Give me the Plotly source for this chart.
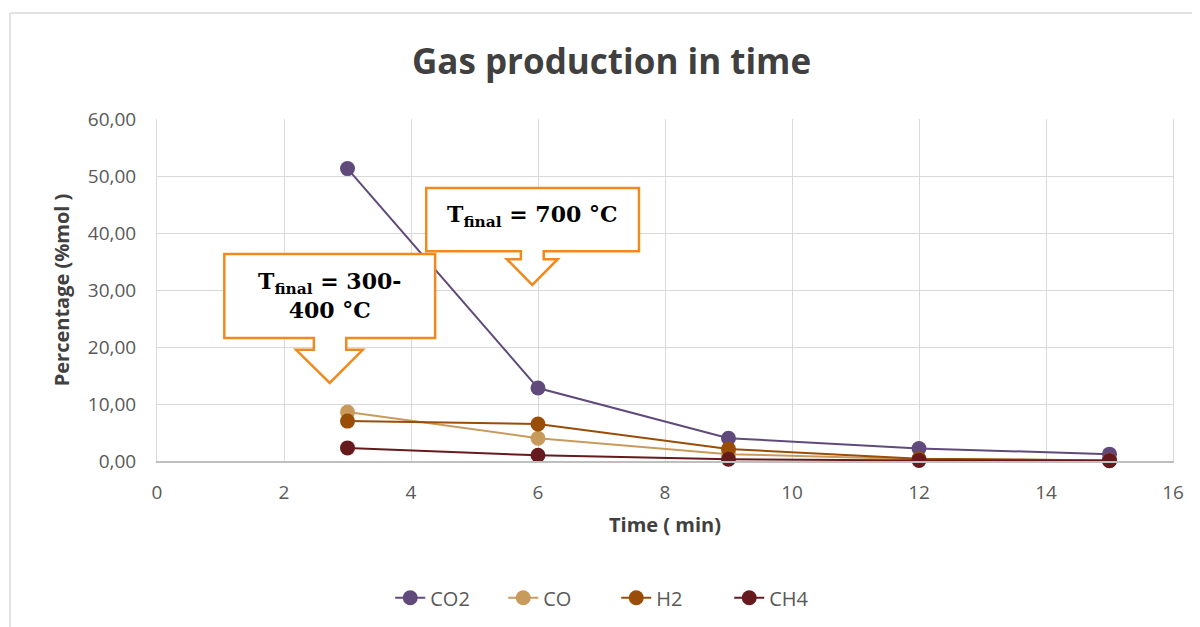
import plotly.graph_objects as go

# Data
time_min = [3, 6, 9, 12, 15]
co2 = [51.3, 12.8, 4.0, 2.2, 1.2]
co = [8.6, 4.0, 1.2, 0.3, 0.1]
h2 = [7.0, 6.5, 2.1, 0.4, 0.1]
ch4 = [2.3, 1.0, 0.3, 0.1, 0.05]

series = [
    ("CO2", co2, "#604A7B"),
    ("CO", co, "#C89B5C"),
    ("H2", h2, "#9A4D06"),
    ("CH4", ch4, "#661A1E"),
]

fig = go.Figure()
for name, vals, color in series:
    fig.add_trace(go.Scatter(
        x=time_min,
        y=vals,
        mode="lines+markers",
        name=name,
        line=dict(color=color, width=2),
        marker=dict(size=15, color=color),
        cliponaxis=False,
    ))

orange = "#F08A1E"


def callout(left, right, top, bottom, neck_l, neck_r, neck_y, wing_l, wing_r, tip_x, tip_y):
    pts = [(left, top), (right, top), (right, bottom), (neck_r, bottom), (neck_r, neck_y),
           (wing_r, neck_y), (tip_x, tip_y), (wing_l, neck_y), (neck_l, neck_y),
           (neck_l, bottom), (left, bottom)]
    path = "M " + " L ".join(f"{x},{y}" for x, y in pts) + " Z"
    return dict(type="path", xref="x", yref="y", path=path,
                fillcolor="white", line=dict(color=orange, width=2.5), layer="above")


shapes = [
    callout(4.24, 7.59, 47.9, 36.8, 5.73, 6.09, 35.4, 5.51, 6.31, 5.91, 30.9),
    callout(1.06, 4.38, 36.3, 21.6, 2.47, 2.98, 19.5, 2.19, 3.24, 2.72, 13.7),
    # outer chart border (left and top)
    dict(type="line", xref="paper", yref="paper", x0=-0.1447, x1=1.1, y0=1.31, y1=1.31,
         line=dict(color="#D9D9D9", width=1.5)),
    dict(type="line", xref="paper", yref="paper", x0=-0.1447, x1=-0.1447, y0=1.31, y1=-0.6,
         line=dict(color="#D9D9D9", width=1.5)),
]

serif = "Georgia, 'DejaVu Serif', 'Liberation Serif', serif"
annotations = [
    dict(x=5.91, y=43.0, xref="x", yref="y", showarrow=False,
         text="<b>T<sub>final</sub> = 700 °C</b>",
         font=dict(family=serif, size=22, color="black")),
    dict(x=2.72, y=29.0, xref="x", yref="y", showarrow=False,
         text="<b>T<sub>final</sub> = 300-<br>400 °C</b>",
         font=dict(family=serif, size=22, color="black")),
]

font_main = "'Open Sans', Calibri, sans-serif"

fig.update_layout(
    width=1200,
    height=627,
    paper_bgcolor="white",
    plot_bgcolor="white",
    margin=dict(l=149, r=35, t=111, b=174),
    separators=", ",
    font=dict(family=font_main, color="#595959", size=19),
    title=dict(text="<b>Gas production in time</b>", x=0.503, xanchor="center",
               y=0.914, yanchor="middle",
               font=dict(family=font_main, size=35, color="#404040")),
    xaxis=dict(
        range=[0, 16], dtick=2, tick0=0,
        showgrid=True, gridcolor="#D9D9D9", gridwidth=1,
        showline=True, linecolor="#BFBFBF", linewidth=2,
        zeroline=False, ticks="", ticklabelstandoff=13,
        tickfont=dict(size=19),
        title=dict(text="<b>Time ( min)</b>", standoff=14,
                   font=dict(size=20, color="#404040")),
    ),
    yaxis=dict(
        range=[0, 60], dtick=10, tick0=0, tickformat=".2f",
        showgrid=True, gridcolor="#D9D9D9", gridwidth=1,
        showline=True, linecolor="#D9D9D9", linewidth=1, mirror=True,
        zeroline=False, ticks="", ticklabelstandoff=16,
        tickfont=dict(size=19),
        title=dict(text="<b>Percentage (%mol )</b>", standoff=12,
                   font=dict(size=20, color="#404040")),
    ),
    showlegend=True,
    legend=dict(orientation="h", x=0.452, xanchor="center", y=-0.40, yanchor="middle",
                font=dict(size=20, color="#595959"),
                entrywidth=68, entrywidthmode="pixels"),
    shapes=shapes,
    annotations=annotations,
)

fig.write_html("out.html")
